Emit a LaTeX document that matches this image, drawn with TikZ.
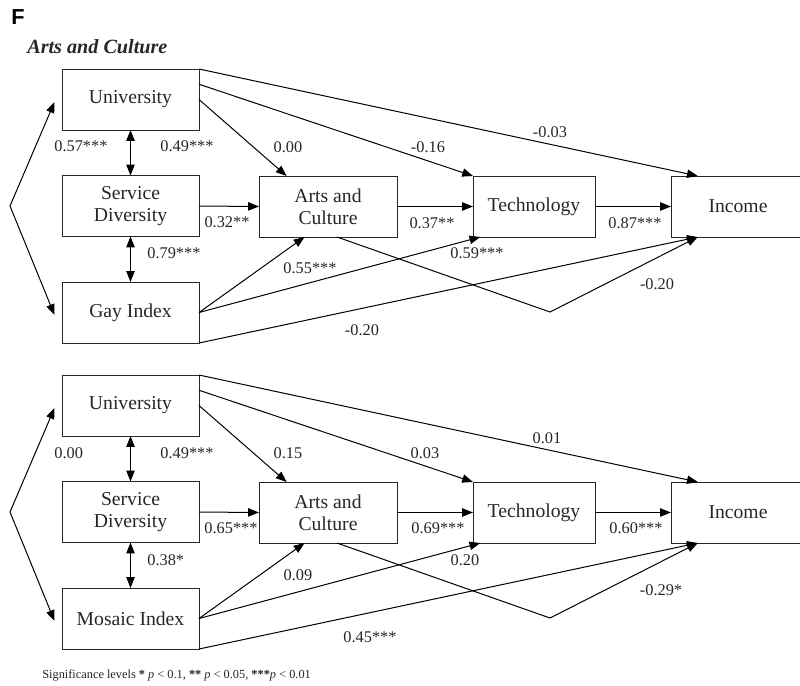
\documentclass[tikz,border=0pt]{standalone}
\usepackage{fontspec}
\setmainfont{Liberation Serif}
\newfontfamily\headfont{Liberation Sans}
\usetikzlibrary{arrows.meta,calc}

\tikzset{
  varbox/.style={draw=black!85, rectangle, inner sep=0pt, outer sep=0pt,
    minimum height=36.6pt, minimum width=82.2pt, align=center,
    text=black!85, font=\fontsize{11.8}{13}\selectfont},
  coef/.style={inner sep=0pt, text=black!85, font=\fontsize{9.8}{11}\selectfont},
  link/.style={->, line width=0.6pt},
}

\begin{document}
\begin{tikzpicture}[x=0.6pt, y=-0.6pt, >={Triangle[length=6.5pt,width=5pt]}]
  \useasboundingbox (0,0) rectangle (800,685);

  \node[text=black, font=\headfont\bfseries\fontsize{13}{15}\selectfont] (panel) at (18,17) {F};
  \node[anchor=west, inner sep=0pt, text=black!85, font=\bfseries\itshape\fontsize{12.1}{14}\selectfont] (title) at (27,47) {Arts and Culture};

  % upper model: Gay Index
  \node[varbox] (uniA) at (130.5,99.5) {University};
  \node[varbox] (servA) at (130.5,206) {Service\\Diversity};
  \node[varbox] (gayA) at (130.5,312.5) {Gay Index};
  \node[varbox, minimum width=82.8pt] (artsA) at (328,206.5) {Arts and\\Culture};
  \node[varbox, minimum width=73.2pt] (techA) at (534,206.5) {Technology};
  \node[varbox, minimum width=80.4pt] (incA) at (738,206.5) {Income};
  \coordinate (apexA) at (10,206);
  \coordinate (bendA) at (550,312);

  \draw[link] (uniA.north east) -- ($(incA.north west)!0.2!(incA.north east)$);
  \draw[link] ($(uniA.north east)!0.25!(uniA.south east)$) -- (techA.north west);
  \draw[link] (uniA.east) -- ($(artsA.north west)!0.2!(artsA.north east)$);
  \draw[link] (servA.east) -- (artsA.west);
  \draw[link] (artsA.east) -- (techA.west);
  \draw[link] (techA.east) -- (incA.west);
  \draw[link, <->] (uniA.south) -- (servA.north);
  \draw[link, <->] (servA.south) -- (gayA.north);
  \draw[link] (gayA.east) -- ($(artsA.south west)!0.33!(artsA.south east)$);
  \draw[link] (gayA.east) -- ($(techA.south west)!0.06!(techA.south east)$);
  \draw[link] (gayA.south east) -- ($(incA.south west)!0.2!(incA.south east)$);
  \draw[link] ($(artsA.south west)!0.565!(artsA.south east)$) -- (bendA) -- ($(incA.south west)!0.2!(incA.south east)$);
  \draw[link, <->] ([xshift=-4.5pt,yshift=-1.5pt]uniA.west) -- (apexA) -- ([xshift=-4.5pt,yshift=-1.5pt]gayA.west);

  \node[coef, anchor=west] (cUniServA) at (54,146) {0.57***};
  \node[coef] (cUniArtsServA) at (187,146) {0.49***};
  \node[coef] (cUniArtsA) at (288,147) {0.00};
  \node[coef] (cUniTechA) at (428,147) {-0.16};
  \node[coef] (cUniIncA) at (550,132) {-0.03};
  \node[coef] (cServArtsA) at (227,222) {0.32**};
  \node[coef] (cArtsTechA) at (432,223) {0.37**};
  \node[coef] (cTechIncA) at (635,223) {0.87***};
  \node[coef, anchor=west] (cServGayA) at (147,253) {0.79***};
  \node[coef] (cGayArtsA) at (310,268) {0.55***};
  \node[coef] (cGayTechA) at (477,253) {0.59***};
  \node[coef] (cGayIncA) at (362,330) {-0.20};
  \node[coef] (cArtsIncA) at (657,284) {-0.20};

  % lower model: Mosaic Index
  \node[varbox] (uniB) at (130.5,405.5) {University};
  \node[varbox] (servB) at (130.5,512) {Service\\Diversity};
  \node[varbox] (mosB) at (130.5,618.5) {Mosaic Index};
  \node[varbox, minimum width=82.8pt] (artsB) at (328,512.5) {Arts and\\Culture};
  \node[varbox, minimum width=73.2pt] (techB) at (534,512.5) {Technology};
  \node[varbox, minimum width=80.4pt] (incB) at (738,512.5) {Income};
  \coordinate (apexB) at (10,512);
  \coordinate (bendB) at (550,618);

  \draw[link] (uniB.north east) -- ($(incB.north west)!0.2!(incB.north east)$);
  \draw[link] ($(uniB.north east)!0.25!(uniB.south east)$) -- (techB.north west);
  \draw[link] (uniB.east) -- ($(artsB.north west)!0.2!(artsB.north east)$);
  \draw[link] (servB.east) -- (artsB.west);
  \draw[link] (artsB.east) -- (techB.west);
  \draw[link] (techB.east) -- (incB.west);
  \draw[link, <->] (uniB.south) -- (servB.north);
  \draw[link, <->] (servB.south) -- (mosB.north);
  \draw[link] (mosB.east) -- ($(artsB.south west)!0.33!(artsB.south east)$);
  \draw[link] (mosB.east) -- ($(techB.south west)!0.06!(techB.south east)$);
  \draw[link] (mosB.south east) -- ($(incB.south west)!0.2!(incB.south east)$);
  \draw[link] ($(artsB.south west)!0.565!(artsB.south east)$) -- (bendB) -- ($(incB.south west)!0.2!(incB.south east)$);
  \draw[link, <->] ([xshift=-4.5pt,yshift=-1.5pt]uniB.west) -- (apexB) -- ([xshift=-4.5pt,yshift=-1.5pt]mosB.west);

  \node[coef, anchor=west] (cUniServB) at (54,453) {0.00};
  \node[coef] (cUniArtsServB) at (187,453) {0.49***};
  \node[coef] (cUniArtsB) at (288,453) {0.15};
  \node[coef] (cUniTechB) at (425,453) {0.03};
  \node[coef] (cUniIncB) at (547,438) {0.01};
  \node[coef] (cServArtsB) at (231,528) {0.65***};
  \node[coef] (cArtsTechB) at (438,528) {0.69***};
  \node[coef] (cTechIncB) at (636,528) {0.60***};
  \node[coef, anchor=west] (cServMosB) at (147,560) {0.38*};
  \node[coef] (cMosArtsB) at (298,575) {0.09};
  \node[coef] (cMosTechB) at (465,560) {0.20};
  \node[coef] (cMosIncB) at (370,637) {0.45***};
  \node[coef] (cArtsIncB) at (661,590) {-0.29*};

  \node[anchor=west, inner sep=0pt, text=black!85, font=\fontsize{7.4}{9}\selectfont] (sig) at (42,675)
    {Significance levels \textbf{*} \textit{p} < 0.1, \textbf{**} \textit{p} < 0.05, \textbf{***}\textit{p} < 0.01};
\end{tikzpicture}
\end{document}
